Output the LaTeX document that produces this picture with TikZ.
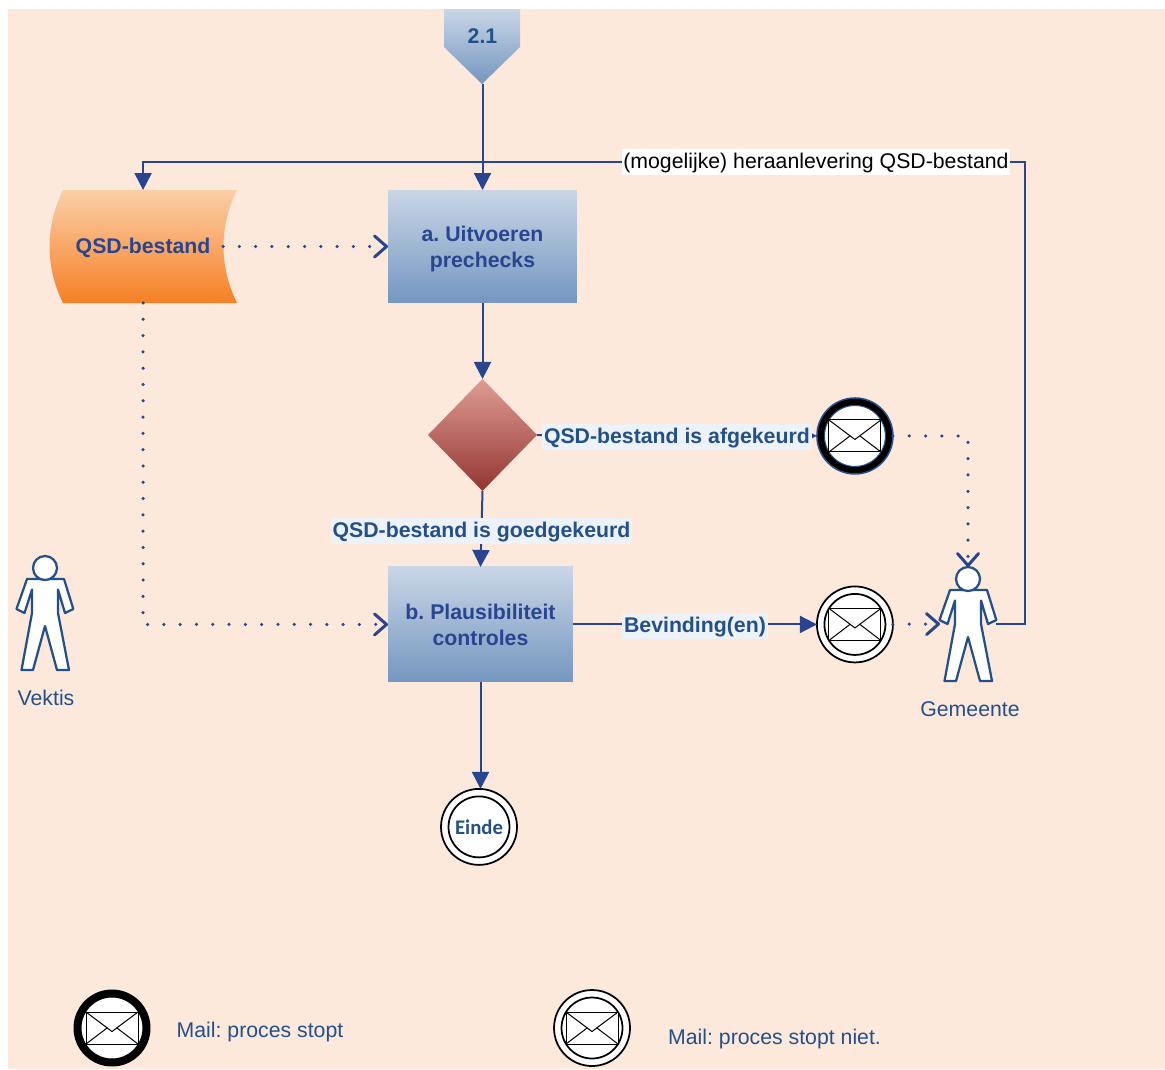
\documentclass[tikz,border=0pt]{standalone}
\usepackage{fontspec}
\setmainfont{Liberation Sans}
\newfontfamily\eindefont{Carlito}
\frenchspacing
\usetikzlibrary{positioning, arrows.meta, shapes.geometric}
\definecolor{bgpeach}{HTML}{FCE9DC}
\definecolor{lineblue}{HTML}{2A4590}
\definecolor{textblue}{HTML}{24508A}
\definecolor{labelfill}{HTML}{EDF1F8}
\definecolor{boxtop}{HTML}{C9D6E6}
\definecolor{boxbottom}{HTML}{7496C0}
\definecolor{qsdtop}{HTML}{FBCFA8}
\definecolor{qsdbottom}{HTML}{F58025}
\definecolor{keuzetop}{HTML}{DF9D94}
\definecolor{keuzebottom}{HTML}{933533}
\newcommand{\MailLetter}[1]{
  \begin{scope}[shift={(#1)}]
    \draw[black,line width=0.02cm,fill=white] (-26,-16) rectangle (26,16);
    \draw[black,line width=0.02cm] (-26,-16) -- (0,3.5) -- (26,-16);
    \draw[black,line width=0.02cm] (-26,16) -- (-5,0);
    \draw[black,line width=0.02cm] (26,16) -- (5,0);
  \end{scope}
}
\newcommand{\InnerRing}[2]{
  \draw[#2] (#1) circle (0.61cm);
}
\tikzset{
  boldtext/.style={font=\fontsize{12.1}{14.8}\selectfont\bfseries},
  oneline/.style={text height=11pt,text depth=3.6pt,inner ysep=0pt},
  procesbox/.style={rectangle,top color=boxtop,bottom color=boxbottom,text=lineblue,boldtext,align=center,inner sep=0pt,outer sep=0pt},
  flow/.style={-{Triangle[length=0.34cm,width=0.34cm]},draw=lineblue,line width=0.04cm},
  infoflow/.style={-{Straight Barb[length=0.24cm,width=0.42cm,line width=0.06cm,round]},draw=lineblue,line width=0.07cm,line cap=round,dash pattern=on 0pt off 0.326cm},
  flowlabel/.style={fill=labelfill,text=textblue,boldtext,oneline,inner xsep=1pt,yshift=-0.035cm},
  mailnode/.style={circle,minimum size=1.52cm,inner sep=0pt,outer sep=0pt},
  mailstop/.style={mailnode,fill=black,draw=textblue,line width=0.03cm},
  mailgo/.style={mailnode,fill=white,draw=black,line width=0.035cm},
  caption/.style={text=textblue,font=\fontsize{12.1}{14.8}\selectfont},
  person/.pic={
    \draw[textblue,line width=0.045cm,fill=white,line join=round]
      (-18,11) -- (19,11) -- (28.3,41) -- (20,45) -- (13,21.5) -- (13,45) -- (24,102) -- (12,102) -- (0,58) -- (-12,102) -- (-23.5,102) -- (-13,45) -- (-13,21.5) -- (-20.5,45) -- (-28.5,41) -- cycle;
    \draw[textblue,line width=0.045cm,fill=white] (0,0) circle (0.24cm);
    \coordinate (-top) at (0,-12);
    \coordinate (-lefthand) at (-28,45);
    \coordinate (-righthand) at (28,45);
  }
}
\begin{document}
\begin{tikzpicture}[x=0.02cm,y=-0.02cm,>=Stealth]
                \useasboundingbox (0,0) rectangle (1165,1069);
                \fill[bgpeach] (8,9) rectangle (1165,1069);

                % Nodes
                \node[procesbox,minimum width=3.78cm,minimum height=2.26cm] (Uitvoeren) at (482.5,246.5) {\rule{0pt}{11.4pt}a. Uitvoeren\\prechecks};

                \shade[top color=boxtop,bottom color=boxbottom] (444,9) -- (520,9) -- (520,47) -- (482,84) -- (444,47) -- cycle;
                \node[above=2.12cm of Uitvoeren,minimum width=1.52cm,minimum height=1.92cm,inner sep=0pt,outer sep=0pt,text=textblue,boldtext] (Start) {2.1};

                \shade[top color=qsdtop,bottom color=qsdbottom] (63,190) -- (237,190) .. controls (219,227) and (219,266) .. (237,303) -- (63,303) .. controls (45,266) and (45,227) .. (63,190) -- cycle;
                \node[left=3.3cm of Uitvoeren,minimum width=3.2cm,minimum height=2.26cm,inner sep=0pt,outer sep=0pt,text=lineblue,boldtext,text height=11pt,text depth=3pt] (Bestand) {QSD-bestand};

                \node[below=1.52cm of Uitvoeren,diamond,top color=keuzetop,bottom color=keuzebottom,minimum width=2.18cm,minimum height=2.24cm,inner sep=0pt,outer sep=0pt] (Keuze) {};
                \node[procesbox,below=1.52cm of Keuze,xshift=-0.04cm,minimum width=3.7cm,minimum height=2.3cm] (Plausibiliteit) {b. Plausibiliteit\\controles};

                \node[mailstop,right=5.6cm of Keuze,yshift=-0.02cm] (MailAfgekeurd) {};
                \node[mailgo,right=4.88cm of Plausibiliteit] (MailBevinding) {};
                \node[mailgo,below=2.14cm of Plausibiliteit,xshift=-0.03cm,text=textblue,font=\eindefont\fontsize{11.8}{14}\selectfont\bfseries] (Einde) {Einde};

                \fill[white] (MailAfgekeurd) circle (0.61cm);
                \InnerRing{MailAfgekeurd}{textblue,line width=0.02cm}
                \MailLetter{MailAfgekeurd}
                \InnerRing{MailBevinding}{black,line width=0.035cm}
                \MailLetter{MailBevinding}
                \InnerRing{Einde}{black,line width=0.035cm}

                \pic (Gemeente) at (968,579) {person};
                \pic (Vektis) at (45,568) {person};
                \node[caption] (GemeenteLabel) at (970,709) {Gemeente};
                \node[caption] (VektisLabel) at (46,698) {Vektis};

                % Legend
                \node[mailnode,fill=white,draw=black,line width=0.16cm,minimum size=1.38cm] (LegendStop) at (112,1028) {};
                \MailLetter{LegendStop}
                \node[mailgo] (LegendGo) at (592,1028) {};
                \InnerRing{LegendGo}{black,line width=0.035cm}
                \MailLetter{LegendGo}
                \node[caption,right=0.48cm of LegendStop,yshift=-0.08cm] (LegendStopText) {Mail: proces stopt};
                \node[caption,right=0.64cm of LegendGo,yshift=-0.22cm] (LegendGoText) {Mail: proces stopt niet.};

                % Arrows
                \coordinate (CornerTop) at (1025,162);
                \draw[flow] (Start.south) -- (Uitvoeren);
                \draw[flow] (Uitvoeren) -- (Keuze);
                \draw[flow] (Keuze.south) -- node[flowlabel] (LabelGoed) {QSD-bestand is goedgekeurd} (Plausibiliteit.north);
                \draw[flow] (Keuze) -- node[flowlabel] (LabelAf) {QSD-bestand is afgekeurd} (MailAfgekeurd);
                \draw[flow] (Plausibiliteit) -- node[flowlabel] (LabelBevinding) {Bevinding(en)} (MailBevinding);
                \draw[flow] (Plausibiliteit.south) -- (Plausibiliteit.south |- Einde.north);
                \draw[flow] (Gemeente-righthand) -| (CornerTop) -- node[pos=0.237,fill=white,text=black,font=\fontsize{12.1}{14.8}\selectfont,oneline,inner xsep=1pt] (LabelHeraan) {(mogelijke) heraanlevering QSD-bestand} (CornerTop -| Bestand) -- (Bestand);

                \draw[infoflow] (Bestand) -- (Uitvoeren);
                \draw[infoflow] (Bestand) |- (Plausibiliteit);
                \draw[infoflow] (MailAfgekeurd) -| (Gemeente-top);
                \draw[infoflow] (MailBevinding) -- (Gemeente-lefthand);
              \end{tikzpicture}
\end{document}
